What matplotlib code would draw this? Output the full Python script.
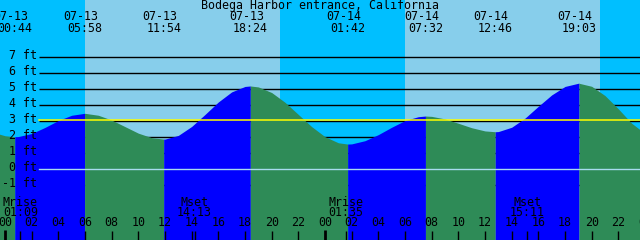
import numpy as np
import matplotlib
matplotlib.use("Agg")
import matplotlib.pyplot as plt

title = "Bodega Harbor entrance, California"

# high / low tide events shown in the header
event_dates = ["07-13", "07-13", "07-13", "07-13", "07-14", "07-14", "07-14", "07-14"]
event_times = ["00:44", "05:58", "11:54", "18:24", "01:42", "07:32", "12:46", "19:03"]
event_feet = [2.00, 3.46, 1.85, 5.17, 1.54, 3.29, 2.31, 5.34]

# tide height, hours since 07-13 00:00
hour_marks = list(range(-1, 49))
hour_feet = [2.30, 2.06, 2.01, 2.20, 2.58, 3.01, 3.34, 3.46, 3.34, 3.04,
             2.63, 2.22, 1.94, 1.85, 2.08, 2.64, 3.39, 4.17, 4.80, 5.14,
             5.11, 4.76, 4.15, 3.39, 2.63, 2.00, 1.62, 1.55, 1.75, 2.13,
             2.59, 3.01, 3.25, 3.27, 3.11, 2.84, 2.56, 2.36, 2.32, 2.59,
             3.16, 3.90, 4.61, 5.14, 5.34, 5.15, 4.57, 3.74, 2.84, 2.20]

# daylight
sunrise = ["07-13 06:00", "07-14 06:00"]
sunset = ["07-13 20:38", "07-14 20:38"]

# moon
moon_kinds = ["Mrise", "Mset", "Mrise", "Mset"]
moon_dates = ["07-13", "07-13", "07-14", "07-14"]
moon_times = ["01:09", "14:13", "01:35", "15:11"]

depth_levels = [-1, 0, 1, 2, 3, 4, 5, 6, 7]
datum = 0.0
msl = 3.0

night_col = "#00BFFF"
day_col = "#87CEEB"
flood_col = "#0000FF"
ebb_col = "#2E8B57"


def to_hours(date, hm):
    day = int(date.split("-")[1]) - 13
    h, m = hm.split(":")
    return day * 24 + int(h) + int(m) / 60.0


def px2t(px):
    return (px - 5) / (40.0 / 3.0)


def py2ft(py):
    return (168.7 - py) / 16.0


def yfrac(py):
    return 1 - py / 240.0


ev_t = np.array([to_hours(d, t) for d, t in zip(event_dates, event_times)])
ev_h = np.array(event_feet)

# merge readings with the extremes
t_all = np.concatenate([np.array(hour_marks, float), ev_t])
h_all = np.concatenate([np.array(hour_feet), ev_h])
order = np.argsort(t_all, kind="stable")
t_all, h_all = t_all[order], h_all[order]

fig = plt.figure(figsize=(6.4, 2.4), dpi=100)
ax = fig.add_axes([0, 0, 1, 1])
ax.set_axis_off()
x0, x1 = px2t(0), px2t(640)
y0, y1 = py2ft(240), py2ft(0)
ax.set_xlim(x0, x1)
ax.set_ylim(y0, y1)

font = dict(family="DejaVu Sans Mono", fontsize=8.4, color="black")
xt = ax.get_xaxis_transform()

# sky
ax.axvspan(x0, x1, color=night_col, zorder=0, lw=0)
for r, s in zip(sunrise, sunset):
    a = to_hours(*r.split())
    b = to_hours(*s.split())
    ax.axvspan(a, b, color=day_col, zorder=0.5, lw=0)

# depth lines
line_start = px2t(39)
for lev in depth_levels:
    ax.plot([line_start, x1], [lev, lev], color="black", lw=1.0, zorder=1,
            solid_capstyle="butt")
    ax.text(px2t(37), lev + 0.05, f"{lev} ft", ha="right", va="center",
            zorder=5, **font)

# water, rising = blue, falling = green
bounds = [x0 - 1] + list(ev_t) + [x1 + 1]
for i in range(len(bounds) - 1):
    a, b = bounds[i], bounds[i + 1]
    m = (t_all >= a) & (t_all <= b)
    if i == 0:
        rising = False
    elif i == len(bounds) - 2:
        rising = False
    else:
        rising = ev_h[i] > ev_h[i - 1]
    ax.fill_between(t_all[m], h_all[m], y0, color=flood_col if rising else ebb_col,
                    lw=0, zorder=2)

# datum and mean sea level
ax.plot([line_start, x1], [datum, datum], color="#a8dcef", lw=1.0, zorder=3)
ax.plot([line_start, x1], [msl + 0.03, msl + 0.03], color="#FFFF00", lw=1.1, zorder=3)

# header
ax.text(0.5, yfrac(6), title, transform=ax.transAxes, ha="center", va="center",
        zorder=5, **font)
for d, tm, t in zip(event_dates, event_times, ev_t):
    ax.text(t - 0.3, yfrac(17), d, transform=xt, ha="center", va="center", zorder=5, **font)
    ax.text(t, yfrac(29), tm, transform=xt, ha="center", va="center", zorder=5, **font)

# bottom hour ticks
for hr in range(0, 49, 2):
    ax.text(hr, yfrac(223), f"{hr % 24:02d}", transform=xt, ha="center",
            va="center", zorder=5, **font)
    if hr % 24 == 0:
        ax.vlines(hr, 0, yfrac(230), transform=xt, color="black", lw=2.0, zorder=5)
    else:
        ax.vlines(hr, 0, yfrac(231), transform=xt, color="black", lw=1.0, zorder=5)

# moon
for k, d, tm in zip(moon_kinds, moon_dates, moon_times):
    t = to_hours(d, tm)
    ax.vlines(t, 0, yfrac(231), transform=xt, color="black", lw=1.0, zorder=5)
    ax.text(t, yfrac(202), k, transform=xt, ha="center", va="center", zorder=5, **font)
    ax.text(t, yfrac(213), tm, transform=xt, ha="center", va="center", zorder=5, **font)

fig.savefig("out.png", dpi=100)
